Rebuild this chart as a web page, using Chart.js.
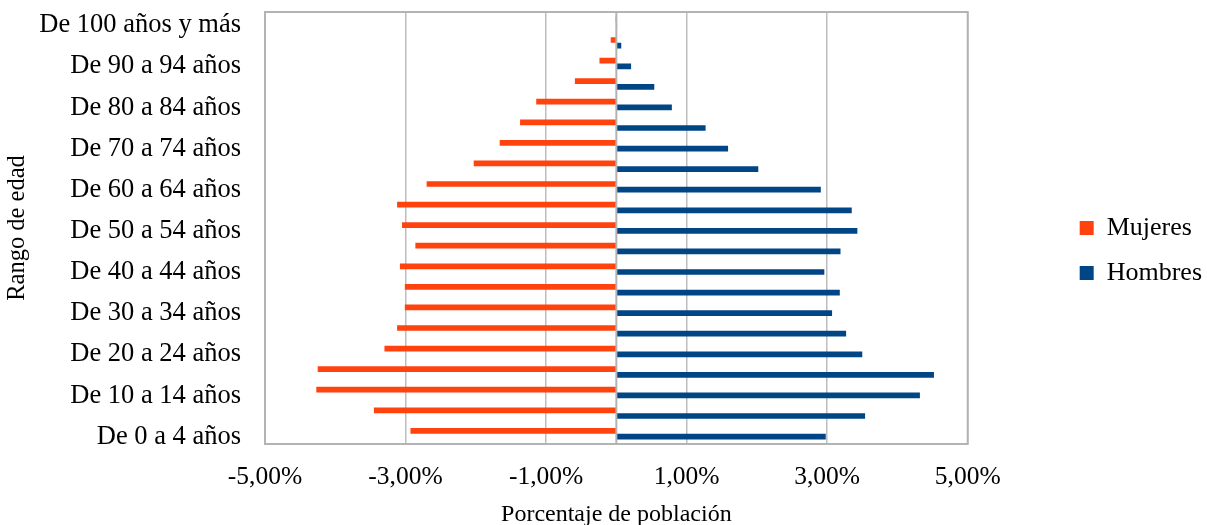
<!DOCTYPE html>
<html>
<head>
<meta charset="utf-8">
<script src="https://cdn.jsdelivr.net/npm/chart.js@4"></script>
<style>
  body { margin: 0; background: #fff; }
  #wrap { width: 1207px; height: 525px; }
</style>
</head>
<body>
<div id="wrap"><canvas id="pyramid"></canvas></div>
<script>
const ageGroups = ['De 0 a 4 años', 'De 5 a 9 años', 'De 10 a 14 años', 'De 15 a 19 años', 'De 20 a 24 años', 'De 25 a 29 años', 'De 30 a 34 años', 'De 35 a 39 años', 'De 40 a 44 años', 'De 45 a 49 años', 'De 50 a 54 años', 'De 55 a 59 años', 'De 60 a 64 años', 'De 65 a 69 años', 'De 70 a 74 años', 'De 75 a 79 años', 'De 80 a 84 años', 'De 85 a 89 años', 'De 90 a 94 años', 'De 95 a 99 años', 'De 100 años y más'];
const mujeres = [-2.93, -3.45, -4.27, -4.25, -3.30, -3.12, -3.01, -3.01, -3.08, -2.86, -3.05, -3.12, -2.70, -2.03, -1.66, -1.37, -1.14, -0.59, -0.24, -0.08, -0.01];
const hombres = [2.98, 3.54, 4.32, 4.52, 3.50, 3.27, 3.07, 3.18, 2.96, 3.19, 3.43, 3.35, 2.91, 2.02, 1.59, 1.27, 0.79, 0.54, 0.21, 0.07, 0.01];

const serif = "'Liberation Serif', 'Times New Roman', serif";
Chart.defaults.color = '#000';
Chart.defaults.font.family = serif;

// plot frame + zero line, and nudge the legend out to the right like the original
const framePlugin = {
  id: 'frame',
  afterLayout(chart) {
    const lg = chart.legend;
    lg.left += 93;
    lg.right += 93;
    lg.top -= 18;
    lg.bottom -= 18;
  },
  afterDatasetsDraw(chart) {
    const { ctx, chartArea: a, scales: { x } } = chart;
    ctx.save();
    ctx.strokeStyle = '#b3b3b3';
    ctx.lineWidth = 2;
    ctx.strokeRect(a.left, a.top, a.right - a.left, a.bottom - a.top);
    const x0 = x.getPixelForValue(0);
    ctx.beginPath();
    ctx.moveTo(x0, a.top);
    ctx.lineTo(x0, a.bottom);
    ctx.stroke();
    ctx.restore();
  }
};

const pyramidCanvas = document.querySelector('#pyramid');
const pyramidChart = new Chart(pyramidCanvas, {
  type: 'bar',
  data: {
    labels: ageGroups,
    datasets: [{
      label: 'Mujeres',
      data: mujeres,
      backgroundColor: '#ff420e',
      borderWidth: 0
    }, {
      label: 'Hombres',
      data: hombres,
      backgroundColor: '#004586',
      borderWidth: 0
    }]
  },
  options: {
    indexAxis: 'y',
    responsive: true,
    maintainAspectRatio: false,
    animation: false,
    categoryPercentage: 0.555,
    barPercentage: 1,
    layout: { padding: { top: 12, right: 88, bottom: 0, left: 0 } },
    plugins: {
      tooltip: { enabled: false },
      legend: {
        position: 'right',
        labels: {
          boxWidth: 14,
          boxHeight: 14,
          padding: 19,
          font: { size: 26, family: serif }
        }
      }
    },
    scales: {
      x: {
        min: -5,
        max: 5,
        grid: { color: '#bdbdbd', lineWidth: 1.5, drawTicks: false },
        border: { display: false },
        ticks: {
          stepSize: 2,
          padding: 18,
          font: { size: 25.5, family: serif },
          callback: v => v.toFixed(2).replace('.', ',') + '%'
        },
        title: {
          display: true,
          text: 'Porcentaje de población',
          font: { size: 24, family: serif },
          padding: { top: 8, bottom: -4 }
        },
        afterFit(s) {
          s.height = 81;
        }
      },
      y: {
        reverse: true,
        grid: { display: false, drawTicks: false },
        border: { display: false },
        ticks: {
          autoSkip: false,
          padding: 24,
          labelOffset: 3,
          font: { size: 26.5, family: serif, lineHeight: 0.9 },
          callback: (v, i) => (i % 2 === 0 ? ageGroups[i] : '')
        },
        title: {
          display: true,
          text: 'Rango de edad',
          font: { size: 24.5, family: serif },
          padding: { top: 3, bottom: 11 }
        },
        afterFit(s) {
          s.width = 265;
          s.paddingTop = 0;
          s.paddingBottom = 0;
        }
      }
    }
  },
  plugins: [framePlugin]
});
</script>
</body>
</html>
